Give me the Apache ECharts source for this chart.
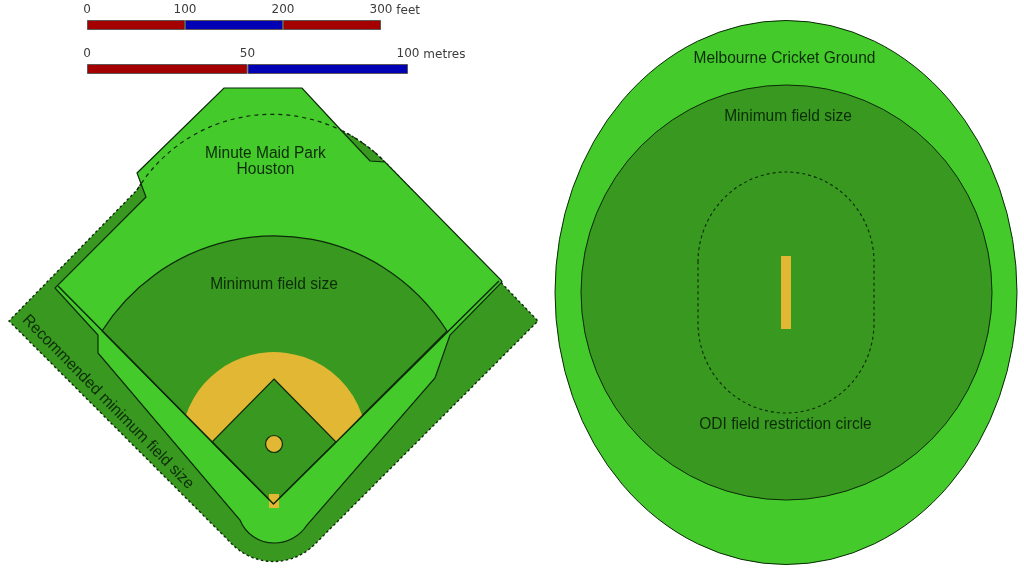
<!DOCTYPE html>
<html>
<head>
<meta charset="utf-8">
<title>Baseball and cricket field sizes</title>
<script src="https://cdn.jsdelivr.net/npm/echarts@6/dist/echarts.min.js"></script>
<style>
  html, body { margin: 0; padding: 0; background: #fff; }
  #chart { width: 1024px; height: 586px; }
</style>
</head>
<body>
<div id="chart"></div>
<script>
// scale bars
const feetSegments = [100, 100, 100];
const metreSegments = [50, 50];

const recommendedField = [[137, 190], [385, 162, 158, 158], [538, 321], [315, 544], [233, 545, 58, 58], [9, 321]];
const recommendedArc = [[137, 190], [385, 162, 158, 158]];
const parkOutline = [[224, 88], [302, 88], [339, 128], [370, 161], [385, 162], [501, 280], [502, 282], [450, 335], [435, 378], [307, 525], [274, 543, 39, 39], [240, 520, 36.6, 36.6], [98, 353], [98, 335], [55, 288], [146, 197], [137, 173]];
const minBaseball = [[273.5, 504], [102, 331], [447, 331, 204, 204]];
const infieldDirt = [[212, 442], [186, 415], [362, 415, 93, 93], [336, 442], [274, 504]];
const infield = [[274, 379], [336, 442], [273.5, 504], [212, 442]];
const moundCircle = [[265.5, 444], [282.5, 444, 8.5, 8.5], [265.5, 444, 8.5, 8.5]];
const homePlate = [[269, 494], [279, 494], [279, 508], [269, 508]];
const foulLines = [[58, 286], [273.5, 504], [499, 281]];

const mcgOutline = [[555, 292.5], [1017, 292.5, 231, 272], [555, 292.5, 231, 272]];
const minCricket = [[581, 292.5], [992, 292.5, 205.5, 207.5], [581, 292.5, 205.5, 207.5]];
const odiCircle = [[698, 262], [874, 262, 88, 90], [874, 323], [698, 323, 88, 90]];
const pitch = [[781, 256], [791, 256], [791, 329], [781, 329]];

// field labels
const labelText = ['Minute Maid Park', 'Houston', 'Minimum field size', 'Recommended minimum field size', 'Melbourne Cricket Ground', 'Minimum field size', 'ODI field restriction circle'];
const labelX = [265.5, 265.5, 274, 108, 784.5, 788, 785.5];
const labelY = [154, 170, 285, 402, 59, 117, 425];
const labelAngle = [0, 0, 0, -45.5, 0, 0, 0];

const LIGHT = '#44ca2a';
const DARK = '#38981f';
const YELLOW = '#e2b733';
const LINE = '#0b2a08';

function shape(points, style, closed = true) {
    return {
        type: 'custom',
        coordinateSystem: 'cartesian2d',
        xAxisIndex: 0,
        yAxisIndex: 0,
        silent: true,
        animation: false,
        clip: false,
        data: [points[0]],
        renderItem: (params, api) => {
            let d = '';
            points.forEach((p, i) => {
                const c = api.coord([p[0], p[1]]);
                if (i === 0) {
                    d += `M ${c[0]} ${c[1]} `;
                } else if (p.length > 2) {
                    const r = api.size([p[2], p[3]]);
                    d += `A ${r[0]} ${r[1]} 0 0 1 ${c[0]} ${c[1]} `;
                } else {
                    d += `L ${c[0]} ${c[1]} `;
                }
            });
            if (closed) d += 'Z';
            return { type: 'path', shape: { pathData: d }, style: Object.assign({ fill: 'none' }, style) };
        }
    };
}

function bar(value, color, stack, axis) {
    return {
        type: 'bar',
        stack: stack,
        xAxisIndex: axis,
        yAxisIndex: axis,
        data: [value],
        barWidth: '100%',
        silent: true,
        animation: false,
        itemStyle: { color: color, borderColor: '#5e5656', borderWidth: 1 }
    };
}

function scaleAxis(index, max, interval, name) {
    return {
        gridIndex: index,
        type: 'value',
        position: 'top',
        min: 0,
        max: max,
        interval: interval,
        axisLine: { show: false },
        axisTick: { show: false },
        splitLine: { show: false },
        axisLabel: { color: '#3c3c3c', fontFamily: 'DejaVu Sans', fontSize: 12, margin: 4, showMinLabel: true, showMaxLabel: true },
        name: name,
        nameLocation: 'end',
        nameGap: 15,
        nameTextStyle: { color: '#3c3c3c', fontFamily: 'DejaVu Sans', fontSize: 12, verticalAlign: 'bottom', padding: [0, 0, 3, 0] }
    };
}

const dash = { stroke: LINE, lineWidth: 1.4, lineDash: [2.5, 2.5] };
const arcDash = { stroke: LINE, lineWidth: 1.2, lineDash: [4, 4] };
const odiDash = { stroke: LINE, lineWidth: 1.1, lineDash: [3, 3] };
const solid = { stroke: LINE, lineWidth: 1.2 };
const foul = { stroke: LINE, lineWidth: 1.5 };
const thin = { stroke: LINE, lineWidth: 1 };

const textSeries = {
    type: 'custom',
    coordinateSystem: 'cartesian2d',
    xAxisIndex: 0,
    yAxisIndex: 0,
    silent: true,
    animation: false,
    data: labelText.map((t, i) => [labelX[i], labelY[i], labelAngle[i]]),
    renderItem: (params, api) => {
        const c = api.coord([api.value(0), api.value(1)]);
        return {
            type: 'text',
            x: c[0],
            y: c[1],
            rotation: api.value(2) * Math.PI / 180,
            scaleX: 0.97,
            style: {
                text: labelText[params.dataIndex],
                fill: '#0c2c08',
                font: '16px "Liberation Sans"',
                align: 'center',
                verticalAlign: 'middle'
            }
        };
    }
};

const chart = echarts.init(document.getElementById('chart'), null, { renderer: 'canvas' });
chart.setOption({
    animation: false,
    backgroundColor: '#fff',
    grid: [
        { left: 0, top: 0, width: 1024, height: 586 },
        { left: 87, top: 20, width: 294, height: 10 },
        { left: 87, top: 64, width: 321, height: 10 }
    ],
    xAxis: [
        { gridIndex: 0, type: 'value', min: 0, max: 1024, show: false },
        scaleAxis(1, 300, 100, 'feet'),
        scaleAxis(2, 100, 50, 'metres')
    ],
    yAxis: [
        { gridIndex: 0, type: 'value', min: 0, max: 586, inverse: true, show: false },
        { gridIndex: 1, type: 'category', data: ['feet'], show: false },
        { gridIndex: 2, type: 'category', data: ['metres'], show: false }
    ],
    series: [
        bar(feetSegments[0], '#a40000', 'feet', 1),
        bar(feetSegments[1], '#0000b4', 'feet', 1),
        bar(feetSegments[2], '#a40000', 'feet', 1),
        bar(metreSegments[0], '#a40000', 'metres', 2),
        bar(metreSegments[1], '#0000b4', 'metres', 2),

        // baseball
        shape(recommendedField, Object.assign({ fill: DARK }, dash)),
        shape(parkOutline, Object.assign({ fill: LIGHT }, solid)),
        shape(recommendedArc, arcDash, false),
        shape(minBaseball, Object.assign({ fill: DARK }, solid)),
        shape(infieldDirt, { fill: YELLOW }),
        shape(infield, Object.assign({ fill: DARK }, solid)),
        shape(homePlate, { fill: YELLOW }),
        shape(foulLines, foul, false),
        shape(moundCircle, Object.assign({ fill: YELLOW }, solid)),

        // cricket
        shape(mcgOutline, Object.assign({ fill: LIGHT }, thin)),
        shape(minCricket, Object.assign({ fill: DARK }, thin)),
        shape(odiCircle, odiDash),
        shape(pitch, { fill: YELLOW }),

        textSeries
    ]
});
</script>
</body>
</html>
